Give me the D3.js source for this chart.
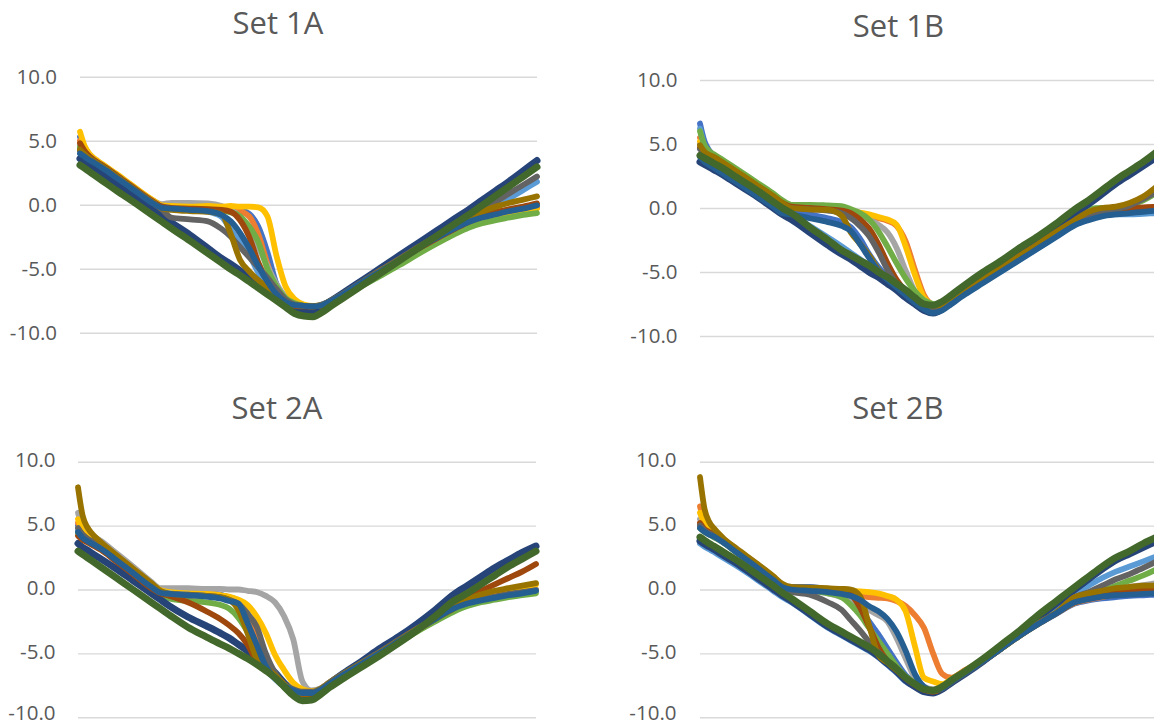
<!DOCTYPE html>
<html>
<head>
<meta charset="utf-8">
<script src="https://cdn.jsdelivr.net/npm/d3@7"></script>
<style>
  html, body { margin: 0; padding: 0; background: #ffffff; }
  svg { display: block; }
</style>
</head>
<body>
<svg id="chart" width="1154" height="727"></svg>
<script>
// ---------------- DATA ----------------
const titles = ["Set 1A", "Set 1B", "Set 2A", "Set 2B"];
const yTicks = [-10, -5, 0, 5, 10];
const seriesNames = ["S1", "S2", "S3", "S4", "S5", "S6", "S7", "S8", "S9", "S10", "S11", "S12"];
// sample positions along the (unlabelled) x axis, 0..100
const X = [0,1,2,3,5,8,12,16,18,20,24,28,31,33,35,37,39,41,43,45,47,49,51,53,55,58,62,66,70,74,78,82,85,88,91,94,97,100];

const set1A = [
 [5.3,4.5,3.95,3.6,3.1,2.35,1.3,0.3,-0.05,-0.1,-0.15,-0.2,-0.25,-0.3,-0.4,-0.7,-1.7,-3.7,-6.2,-7.3,-7.7,-7.9,-7.95,-7.8,-7.5,-6.9,-6.0,-5.1,-4.25,-3.35,-2.55,-1.8,-1.3,-0.95,-0.7,-0.45,-0.3,-0.15],
 [5.0,4.3,3.85,3.55,3.05,2.3,1.25,0.25,-0.1,-0.15,-0.2,-0.25,-0.3,-0.35,-0.5,-0.9,-2.3,-4.6,-6.6,-7.4,-7.8,-7.9,-7.95,-7.85,-7.5,-6.95,-6.05,-5.15,-4.3,-3.4,-2.6,-1.85,-1.35,-1.0,-0.75,-0.55,-0.4,-0.25],
 [4.6,4.1,3.8,3.5,3.05,2.3,1.3,0.3,0.05,0.15,0.15,0.1,-0.1,-0.4,-1.0,-2.0,-3.3,-4.8,-6.2,-7.2,-7.7,-7.9,-7.95,-7.8,-7.5,-6.9,-6.0,-5.1,-4.25,-3.4,-2.6,-1.85,-1.3,-0.9,-0.6,-0.4,-0.2,0.0],
 [5.7,4.6,4.0,3.65,3.15,2.4,1.35,0.35,-0.05,-0.1,-0.15,-0.1,-0.15,-0.1,-0.15,-0.15,-0.2,-0.9,-4.0,-6.4,-7.4,-7.8,-7.9,-7.85,-7.5,-6.95,-6.05,-5.15,-4.3,-3.4,-2.6,-1.85,-1.35,-1.0,-0.8,-0.6,-0.45,-0.3],
 [4.4,4.0,3.7,3.45,3.0,2.25,1.2,0.2,-0.15,-0.25,-0.4,-0.55,-0.95,-2.0,-2.9,-3.9,-5.3,-6.4,-7.1,-7.6,-7.85,-7.9,-7.95,-7.85,-7.5,-6.9,-6.0,-5.1,-4.2,-3.35,-2.55,-1.8,-1.2,-0.6,-0.05,0.5,1.15,1.8],
 [4.5,4.05,3.75,3.45,3.0,2.25,1.2,0.2,-0.2,-0.3,-0.4,-0.45,-0.5,-0.6,-0.9,-1.7,-2.9,-5.0,-6.4,-7.3,-7.7,-7.9,-7.95,-7.9,-7.7,-7.1,-6.3,-5.5,-4.7,-3.85,-3.05,-2.3,-1.8,-1.45,-1.2,-1.0,-0.8,-0.65],
 [3.6,3.35,3.1,2.85,2.35,1.6,0.6,-0.4,-0.9,-1.4,-2.35,-3.4,-4.2,-4.65,-5.15,-5.65,-6.1,-6.65,-7.15,-7.65,-8.15,-8.4,-8.4,-8.0,-7.5,-6.8,-5.85,-4.9,-3.95,-3.0,-2.05,-1.1,-0.4,0.35,1.1,1.85,2.65,3.45],
 [4.8,4.2,3.8,3.5,3.05,2.3,1.25,0.25,-0.15,-0.25,-0.3,-0.35,-0.4,-0.55,-1.2,-2.5,-4.5,-6.0,-7.1,-7.7,-7.9,-7.95,-7.95,-7.85,-7.5,-6.95,-6.05,-5.15,-4.3,-3.45,-2.65,-1.9,-1.35,-0.95,-0.6,-0.35,-0.15,0.1],
 [4.2,3.9,3.65,3.4,2.95,2.2,1.15,0.15,-0.4,-1.0,-1.15,-1.3,-1.9,-2.5,-3.3,-4.1,-4.9,-5.7,-6.6,-7.4,-7.8,-7.9,-7.95,-7.8,-7.45,-6.85,-5.95,-5.05,-4.2,-3.3,-2.45,-1.6,-0.95,-0.35,0.25,0.9,1.55,2.2],
 [4.3,3.95,3.65,3.4,2.95,2.2,1.15,0.15,-0.3,-0.4,-0.5,-0.55,-0.75,-2.3,-4.3,-5.2,-5.9,-6.5,-7.1,-7.6,-7.85,-7.9,-7.95,-7.85,-7.5,-6.9,-6.0,-5.1,-4.25,-3.35,-2.5,-1.7,-1.1,-0.55,-0.15,0.15,0.4,0.65],
 [4.0,3.75,3.5,3.3,2.85,2.1,1.1,0.1,-0.25,-0.3,-0.4,-0.5,-0.8,-1.3,-2.2,-3.4,-4.8,-6.0,-7.0,-7.6,-7.85,-7.9,-7.95,-7.85,-7.5,-6.9,-6.0,-5.15,-4.3,-3.4,-2.6,-1.85,-1.35,-1.0,-0.75,-0.5,-0.3,-0.05],
 [3.1,2.85,2.6,2.35,1.85,1.1,0.15,-0.85,-1.35,-1.85,-2.8,-3.8,-4.55,-5.05,-5.5,-6.0,-6.5,-7.0,-7.5,-8.0,-8.5,-8.7,-8.75,-8.4,-7.9,-7.2,-6.25,-5.3,-4.35,-3.4,-2.45,-1.5,-0.8,-0.05,0.7,1.45,2.2,2.95]
];

const set1B = [
 [6.6,5.2,4.5,4.1,3.55,2.8,1.8,0.8,0.3,-0.1,-0.5,-0.8,-1.1,-1.5,-2.4,-3.6,-4.6,-5.4,-6.0,-6.6,-7.2,-7.8,-8.1,-7.9,-7.4,-6.6,-5.7,-4.8,-3.9,-3.0,-2.1,-1.2,-0.8,-0.5,-0.3,-0.15,-0.05,0.0],
 [5.5,4.7,4.3,4.05,3.6,2.9,1.95,1.0,0.5,0.15,0.05,0.0,-0.1,-0.2,-0.4,-0.6,-0.8,-1.0,-1.4,-2.6,-4.8,-6.8,-7.6,-7.8,-7.3,-6.6,-5.7,-4.8,-3.85,-2.95,-2.0,-1.1,-0.7,-0.4,-0.25,-0.1,0.0,0.1],
 [5.0,4.5,4.2,4.0,3.55,2.85,1.9,0.95,0.45,0.05,0.0,-0.1,-0.2,-0.35,-0.6,-0.9,-1.3,-1.9,-3.1,-4.9,-6.5,-7.3,-7.6,-7.7,-7.25,-6.55,-5.65,-4.75,-3.8,-2.9,-1.95,-1.05,-0.6,-0.3,-0.1,0.3,0.8,1.5],
 [5.2,4.6,4.25,4.05,3.6,2.9,1.95,1.0,0.5,0.1,0.0,-0.05,-0.1,-0.2,-0.35,-0.5,-0.7,-0.9,-1.3,-3.0,-5.2,-7.0,-7.6,-7.75,-7.3,-6.6,-5.7,-4.8,-3.85,-2.95,-2.0,-1.1,-0.7,-0.45,-0.3,-0.2,-0.15,-0.1],
 [6.2,4.8,4.0,3.6,3.05,2.35,1.4,0.4,-0.1,-0.5,-1.4,-2.3,-3.0,-3.5,-4.0,-4.5,-5.0,-5.5,-6.1,-6.7,-7.3,-7.9,-8.2,-7.95,-7.45,-6.7,-5.8,-4.9,-4.0,-3.1,-2.2,-1.3,-0.9,-0.6,-0.5,-0.5,-0.45,-0.4],
 [6.0,4.9,4.45,4.2,3.75,3.05,2.1,1.15,0.6,0.25,0.25,0.2,0.15,-0.1,-0.4,-0.9,-1.8,-3.0,-4.3,-5.5,-6.5,-7.2,-7.5,-7.6,-7.2,-6.5,-5.6,-4.7,-3.7,-2.8,-1.8,-0.8,-0.1,0.0,0.0,0.2,0.6,1.2],
 [3.6,3.4,3.2,3.0,2.6,1.9,1.0,0.0,-0.5,-0.9,-1.9,-2.9,-3.6,-4.0,-4.5,-5.0,-5.4,-5.9,-6.4,-7.0,-7.5,-8.0,-8.2,-7.9,-7.2,-6.4,-5.4,-4.4,-3.4,-2.5,-1.5,-0.4,0.3,1.1,1.9,2.6,3.3,4.0],
 [4.7,4.3,4.1,3.95,3.5,2.8,1.85,0.9,0.4,0.1,0.0,-0.1,-0.2,-0.4,-0.9,-1.6,-2.8,-4.3,-5.6,-6.5,-7.1,-7.6,-7.8,-7.8,-7.35,-6.65,-5.75,-4.85,-3.9,-3.0,-2.05,-1.15,-0.7,-0.35,-0.2,-0.05,0.05,0.1],
 [4.6,4.25,4.05,3.9,3.45,2.75,1.8,0.85,0.35,0.0,-0.1,-0.2,-0.4,-0.8,-1.4,-2.2,-3.4,-4.8,-5.9,-6.6,-7.2,-7.6,-7.8,-7.7,-7.25,-6.55,-5.65,-4.75,-3.8,-2.9,-1.95,-1.05,-0.6,-0.3,-0.1,0.2,0.7,1.3],
 [4.9,4.4,4.15,4.0,3.55,2.85,1.9,0.95,0.4,0.0,-0.1,-0.15,-0.6,-1.9,-2.8,-3.7,-4.8,-5.5,-6.0,-6.6,-7.1,-7.5,-7.6,-7.6,-7.15,-6.45,-5.55,-4.65,-3.7,-2.8,-1.85,-0.95,-0.3,0.0,0.1,0.4,0.9,1.7],
 [4.0,3.6,3.35,3.15,2.7,2.0,1.05,0.1,-0.4,-0.5,-0.8,-1.1,-1.4,-1.8,-2.8,-3.9,-4.9,-5.6,-6.2,-6.8,-7.4,-7.9,-8.2,-8.0,-7.5,-6.75,-5.85,-4.95,-4.05,-3.15,-2.25,-1.35,-0.95,-0.65,-0.5,-0.4,-0.3,-0.2],
 [4.1,3.9,3.7,3.5,3.1,2.4,1.5,0.5,0.0,-0.4,-1.5,-2.5,-3.3,-3.7,-4.1,-4.5,-5.0,-5.4,-5.9,-6.4,-7.0,-7.5,-7.6,-7.3,-6.8,-6.0,-5.0,-4.1,-3.1,-2.2,-1.2,-0.1,0.6,1.4,2.2,2.9,3.6,4.4]
];

const set2A = [
 [5.0,4.3,3.95,3.75,3.35,2.5,1.4,0.3,0.0,0.0,-0.1,-0.2,-0.4,-0.6,-0.9,-1.8,-3.5,-5.4,-6.7,-7.5,-7.9,-8.1,-8.1,-7.8,-7.3,-6.6,-5.75,-4.9,-4.0,-3.1,-2.3,-1.45,-1.05,-0.8,-0.6,-0.4,-0.2,-0.05],
 [5.2,4.4,4.0,3.8,3.4,2.55,1.45,0.35,0.0,-0.1,-0.2,-0.3,-0.45,-0.65,-1.0,-2.0,-3.7,-5.6,-6.8,-7.6,-7.95,-8.05,-8.05,-7.75,-7.25,-6.55,-5.7,-4.85,-3.95,-3.05,-2.25,-1.4,-1.0,-0.75,-0.55,-0.35,-0.2,0.0],
 [6.0,4.9,4.5,4.25,3.8,2.95,1.8,0.6,0.1,0.1,0.1,0.05,0.05,0.0,0.0,-0.1,-0.2,-0.5,-1.0,-2.1,-3.9,-7.2,-7.9,-7.75,-7.25,-6.55,-5.7,-4.85,-3.95,-3.05,-2.25,-1.4,-1.0,-0.75,-0.5,-0.3,-0.15,0.0],
 [5.5,4.6,4.2,4.0,3.55,2.7,1.6,0.45,-0.05,-0.2,-0.3,-0.35,-0.45,-0.55,-0.8,-1.2,-2.1,-3.4,-5.1,-6.3,-7.3,-7.8,-7.95,-7.75,-7.25,-6.55,-5.7,-4.85,-3.95,-3.05,-2.2,-1.35,-0.9,-0.55,-0.25,0.0,0.2,0.4],
 [4.6,4.1,3.85,3.65,3.25,2.45,1.35,0.25,-0.15,-0.3,-0.4,-0.5,-0.65,-0.85,-1.4,-3.0,-4.8,-6.2,-7.0,-7.6,-7.95,-8.1,-8.1,-7.85,-7.35,-6.65,-5.8,-4.95,-4.05,-3.15,-2.3,-1.5,-1.1,-0.85,-0.6,-0.4,-0.25,-0.1],
 [4.4,4.0,3.75,3.55,3.15,2.35,1.25,0.15,-0.4,-0.7,-0.9,-1.0,-1.2,-1.5,-2.2,-3.3,-4.7,-6.0,-6.9,-7.6,-8.0,-8.2,-8.2,-7.9,-7.45,-6.8,-5.95,-5.1,-4.2,-3.3,-2.5,-1.75,-1.3,-1.0,-0.8,-0.6,-0.45,-0.3],
 [3.6,3.3,3.1,2.85,2.4,1.7,0.7,-0.3,-0.8,-1.3,-2.15,-2.85,-3.4,-3.8,-4.3,-4.8,-5.3,-5.9,-6.5,-7.3,-8.0,-8.4,-8.35,-7.95,-7.35,-6.55,-5.6,-4.6,-3.7,-2.7,-1.6,-0.4,0.3,1.0,1.7,2.3,2.9,3.4],
 [4.2,3.9,3.7,3.5,3.1,2.3,1.2,0.1,-0.3,-0.5,-1.0,-1.7,-2.3,-2.8,-3.4,-4.3,-5.6,-6.3,-6.9,-7.5,-8.0,-8.2,-8.2,-7.9,-7.4,-6.7,-5.85,-5.0,-4.1,-3.2,-2.3,-1.3,-0.6,-0.1,0.4,0.9,1.4,2.0],
 [4.8,4.3,4.0,3.8,3.35,2.5,1.4,0.3,-0.2,-0.35,-0.4,-0.5,-0.6,-0.8,-1.1,-1.9,-2.9,-5.0,-6.5,-7.4,-7.8,-8.0,-8.0,-7.75,-7.25,-6.55,-5.7,-4.85,-3.95,-3.05,-2.25,-1.4,-1.0,-0.75,-0.55,-0.35,-0.2,-0.05],
 [8.0,5.8,4.9,4.4,3.7,2.8,1.65,0.5,-0.1,-0.35,-0.45,-0.5,-0.6,-0.8,-1.6,-3.4,-5.4,-6.1,-6.7,-7.4,-7.95,-8.15,-8.1,-7.8,-7.3,-6.6,-5.75,-4.9,-4.0,-3.1,-2.3,-1.5,-0.8,-0.4,-0.1,0.1,0.3,0.5],
 [4.5,4.05,3.8,3.6,3.2,2.4,1.3,0.2,-0.25,-0.35,-0.45,-0.55,-0.7,-0.9,-1.1,-2.6,-4.3,-6.0,-6.9,-7.5,-7.9,-8.1,-8.1,-7.85,-7.35,-6.65,-5.8,-4.95,-4.05,-3.15,-2.3,-1.5,-1.1,-0.85,-0.65,-0.45,-0.3,-0.1],
 [3.0,2.75,2.5,2.25,1.75,1.0,0.0,-1.0,-1.5,-2.0,-2.95,-3.7,-4.25,-4.6,-5.0,-5.4,-5.85,-6.35,-6.9,-7.6,-8.3,-8.7,-8.65,-8.2,-7.65,-6.95,-6.05,-5.15,-4.2,-3.2,-2.1,-0.9,-0.3,0.4,1.1,1.8,2.4,3.0]
];

const set2B = [
 [5.0,4.6,4.4,4.2,3.75,2.95,1.9,0.8,0.3,0.2,0.2,0.0,-0.3,-0.8,-1.5,-2.5,-3.5,-4.6,-5.7,-6.7,-7.3,-7.8,-8.0,-7.7,-7.2,-6.5,-5.6,-4.6,-3.6,-2.7,-1.9,-1.1,-0.85,-0.7,-0.6,-0.5,-0.45,-0.4],
 [6.5,5.3,4.9,4.65,4.0,3.15,2.1,1.0,0.4,0.1,0.0,-0.1,-0.2,-0.4,-0.5,-0.6,-0.65,-0.7,-0.9,-1.3,-2.0,-3.0,-5.0,-6.6,-6.9,-6.3,-5.5,-4.55,-3.55,-2.65,-1.85,-1.05,-0.8,-0.6,-0.4,-0.3,-0.2,-0.1],
 [5.5,4.9,4.6,4.45,3.9,3.05,2.0,0.9,0.3,0.0,-0.1,-0.3,-0.6,-0.9,-1.2,-1.6,-2.0,-2.5,-3.8,-5.4,-6.9,-7.6,-7.8,-7.6,-7.1,-6.4,-5.5,-4.5,-3.5,-2.6,-1.8,-0.9,-0.5,-0.2,0.0,0.2,0.35,0.5],
 [6.0,5.2,4.8,4.55,3.95,3.1,2.05,0.95,0.35,0.1,0.0,0.0,-0.05,-0.1,-0.15,-0.2,-0.3,-0.5,-0.8,-1.7,-4.4,-6.9,-7.2,-7.4,-7.0,-6.35,-5.45,-4.5,-3.5,-2.6,-1.8,-1.0,-0.7,-0.5,-0.35,-0.2,-0.1,0.0],
 [3.6,3.35,3.15,2.95,2.5,1.85,0.9,-0.1,-0.6,-1.0,-2.0,-3.0,-3.6,-4.0,-4.4,-4.8,-5.3,-5.9,-6.5,-7.2,-7.6,-7.9,-8.0,-7.8,-7.3,-6.6,-5.6,-4.6,-3.5,-2.5,-1.4,-0.3,0.3,0.9,1.4,1.8,2.2,2.6],
 [4.8,4.5,4.3,4.1,3.7,2.9,1.9,0.8,0.3,0.0,-0.1,-0.3,-0.6,-1.2,-2.0,-3.0,-4.0,-5.0,-6.0,-6.8,-7.3,-7.7,-7.9,-7.7,-7.2,-6.5,-5.55,-4.6,-3.6,-2.7,-1.8,-0.7,-0.4,-0.1,0.3,0.7,1.1,1.6],
 [3.8,3.55,3.35,3.15,2.7,2.05,1.05,0.05,-0.45,-0.9,-1.9,-2.9,-3.5,-3.9,-4.3,-4.7,-5.2,-5.8,-6.4,-7.1,-7.6,-8.0,-8.1,-7.8,-7.3,-6.6,-5.6,-4.5,-3.4,-2.2,-1.1,0.0,0.8,1.6,2.3,2.8,3.3,3.8],
 [5.2,4.7,4.5,4.3,3.8,3.0,1.95,0.85,0.3,0.1,0.0,-0.1,-0.2,-0.4,-1.4,-2.9,-4.5,-5.6,-6.3,-6.95,-7.45,-7.85,-8.0,-7.75,-7.25,-6.55,-5.6,-4.6,-3.6,-2.7,-1.85,-1.0,-0.7,-0.45,-0.25,-0.1,0.0,0.1],
 [5.0,4.6,4.4,4.2,3.75,2.95,1.9,0.8,0.25,-0.2,-0.4,-1.0,-1.6,-2.4,-3.2,-4.1,-4.9,-5.6,-6.2,-6.9,-7.4,-7.8,-7.95,-7.7,-7.2,-6.5,-5.55,-4.55,-3.55,-2.65,-1.8,-0.6,-0.2,0.3,0.8,1.2,1.7,2.2],
 [8.8,6.3,5.3,4.8,4.05,3.2,2.15,1.05,0.45,0.2,0.15,0.1,0.05,0.0,-0.5,-2.8,-5.1,-5.7,-6.3,-6.9,-7.4,-7.8,-7.95,-7.7,-7.2,-6.5,-5.55,-4.6,-3.6,-2.65,-1.8,-0.6,-0.3,-0.1,0.1,0.2,0.3,0.3],
 [4.8,4.5,4.3,4.15,3.7,2.9,1.85,0.75,0.2,0.0,-0.1,-0.2,-0.35,-0.5,-0.8,-1.3,-1.7,-2.3,-3.3,-4.8,-6.6,-7.6,-7.9,-7.75,-7.25,-6.55,-5.6,-4.6,-3.6,-2.7,-1.85,-1.0,-0.75,-0.55,-0.45,-0.4,-0.35,-0.3],
 [4.1,3.85,3.6,3.4,2.95,2.3,1.3,0.3,-0.25,-0.7,-1.7,-2.7,-3.3,-3.7,-4.1,-4.5,-5.0,-5.6,-6.2,-6.9,-7.4,-7.8,-7.9,-7.6,-7.1,-6.4,-5.4,-4.3,-3.2,-2.0,-0.9,0.2,1.0,1.8,2.5,3.0,3.6,4.1]
];

// ---------------- STYLE / LAYOUT ----------------
const colors = ["#4472C4","#ED7D31","#A5A5A5","#FFC000","#5B9BD5","#70AD47",
                "#264478","#9E480E","#636363","#997300","#255E91","#43682B"];
const panels = [
  {title: titles[0], data: set1A, left: 80,  right: 537,  top: 76.7,  bottom: 332.7, labelX: 57,    titleX: 278,   titleY: 33.5, labelShift: 0},
  {title: titles[1], data: set1B, left: 700, right: 1157, top: 80,    bottom: 336,   labelX: 677.5, titleX: 898.5, titleY: 36.5, labelShift: 0},
  {title: titles[2], data: set2A, left: 78,  right: 536,  top: 461.7, bottom: 717.3, labelX: 55.5,  titleX: 277,   titleY: 419,  labelShift: -1.5},
  {title: titles[3], data: set2B, left: 700, right: 1157, top: 461.7, bottom: 717.3, labelX: 676.5, titleX: 898,   titleY: 419,  labelShift: -1.5}
];

const svg = d3.select("#chart");
const FONT = "'Open Sans', 'Noto Sans', sans-serif";
const TEXT = "#595959";

panels.forEach(p => {
  const g = svg.append("g");
  const x = d3.scaleLinear().domain([0, 100]).range([p.left, p.right]);
  const y = d3.scaleLinear().domain([-10, 10]).range([p.bottom, p.top]);

  // gridlines + tick labels
  const gridW = Math.min(p.right, 1156) - p.left;
  const axis = d3.axisLeft(y)
    .tickValues(yTicks)
    .tickSize(-gridW)
    .tickPadding(p.left - p.labelX)
    .tickFormat(d => d.toFixed(1));
  const ag = g.append("g").attr("transform", `translate(${p.left},0)`).call(axis);
  ag.select(".domain").remove();
  ag.selectAll(".tick line").attr("stroke", "#D9D9D9").attr("stroke-width", 1.4);
  ag.selectAll(".tick text")
    .attr("fill", TEXT)
    // keep the lowest label of the bottom row inside the picture
    .attr("transform", d => `translate(0,${(p.labelShift !== 0 && d === -10) ? -4.5 : p.labelShift})`)
    .style("font-family", FONT)
    .style("font-size", "20.5px");

  // title
  g.append("text")
    .attr("x", p.titleX).attr("y", p.titleY)
    .attr("text-anchor", "middle")
    .attr("fill", TEXT)
    .style("font-family", FONT)
    .style("font-size", "31px")
    .text(p.title);

  // series
  const line = d3.line()
    .x(d => x(d[0]))
    .y(d => y(d[1]))
    .curve(d3.curveMonotoneX);

  p.data.forEach((vals, i) => {
    const pts = X.map((t, k) => [t, vals[k]]);
    g.append("path")
      .datum(pts)
      .attr("d", line)
      .attr("fill", "none")
      .attr("stroke", colors[i])
      .attr("stroke-width", (i === 6 || i === 11) ? 7 : 5.8)
      .attr("stroke-linejoin", "round")
      .attr("stroke-linecap", "round")
      .attr("data-name", seriesNames[i]);
  });
});
</script>
</body>
</html>
